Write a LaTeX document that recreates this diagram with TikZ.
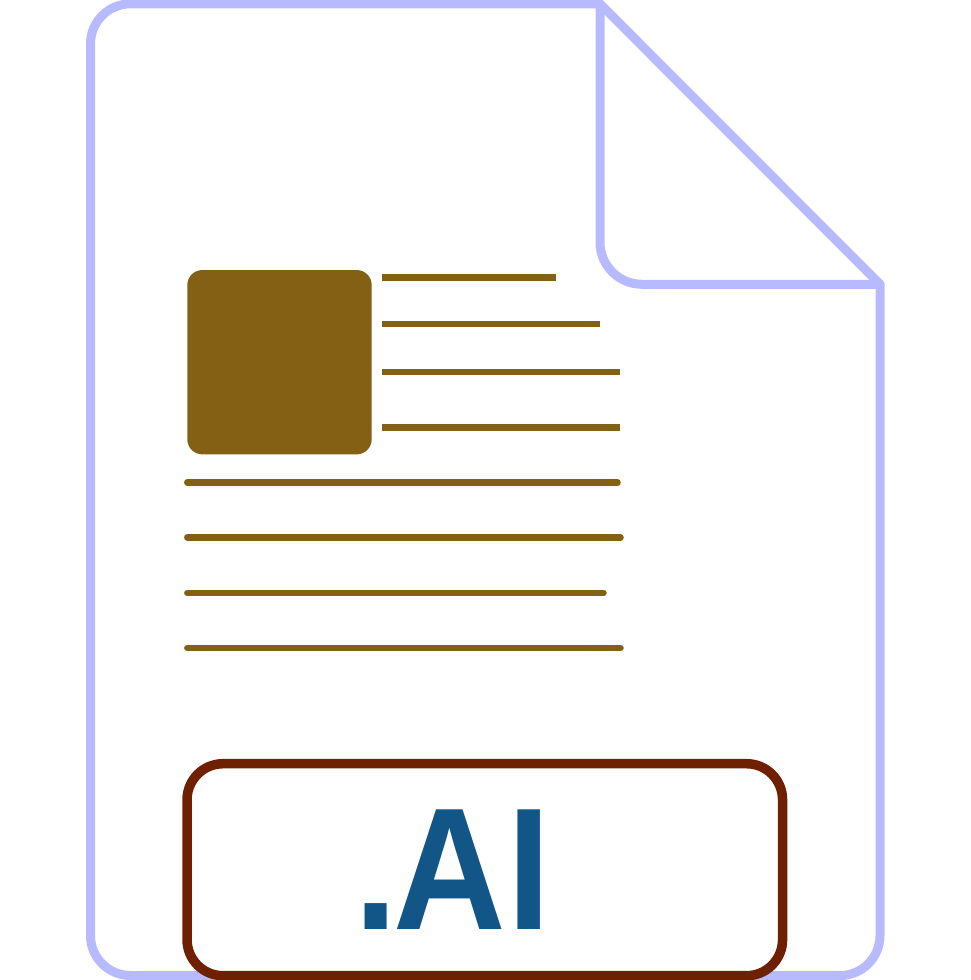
\documentclass[tikz,border=0pt]{standalone}
\usepackage{fontspec}
\setmainfont{Liberation Sans}
\definecolor{pagec}{HTML}{B8BAFF}
\definecolor{brownc}{HTML}{836014}
\definecolor{boxc}{HTML}{6E2000}
\definecolor{textc}{HTML}{125688}
\tikzset{
  pageline/.style={draw=pagec,line width=9pt,line join=round,line cap=round},
  rule/.style={draw=brownc,line width=6.5pt},
  rrule/.style={draw=brownc,line width=6.5pt,line cap=round},
}
\begin{document}
\begin{tikzpicture}[x=1pt,y=-1pt]
\useasboundingbox (0,0) rectangle (970,980);
\clip (0,0) rectangle (970,980);
\fill[white] (0,0) rectangle (970,980);
% page outline
\draw[pageline,rounded corners=40pt] (600,3.8) -- (90.5,3.8) -- (90.5,975.5) -- (880,975.5) -- (880,284.3);
\draw[pageline] (880,284.3) -- (600,3.8);
% fold
\draw[pageline,rounded corners=42pt] (600,3.8) -- (600,284.3) -- (880,284.3);
% image block
\node[fill=brownc,rounded corners=15pt,minimum width=184.4pt,minimum height=184.3pt,inner sep=0pt] (img) at (279.5,362.2) {};
% text lines
\foreach \n/\xa/\xb/\y in {a/382/555.7/277.3,b/382/600/324,c/382/620.3/372,d/382/620.3/427.3}{
  \coordinate (\n1) at (\xa,\y); \coordinate (\n2) at (\xb,\y);
  \draw[rule] (\n1) -- (\n2);
}
\foreach \n/\xa/\xb/\y in {e/187.3/617.5/482.5,f/187.3/620.5/537.5,g/187.3/603.5/592.8,h/187.3/620.5/648}{
  \coordinate (\n1) at (\xa,\y); \coordinate (\n2) at (\xb,\y);
  \draw[rrule] (\n1) -- (\n2);
}
% label
\node[draw=boxc,fill=white,line width=9.5pt,rounded corners=36pt,minimum width=595.5pt,minimum height=212pt,inner sep=0pt] (lab) at (484.8,869.7) {};
\node[text=textc,font=\bfseries\fontsize{174}{174}\selectfont,inner sep=0pt,anchor=base west,xscale=0.896,transform shape] (t) at (354.5,929.3) {.\kern-5pt A\kern2pt I};
\end{tikzpicture}
\end{document}
